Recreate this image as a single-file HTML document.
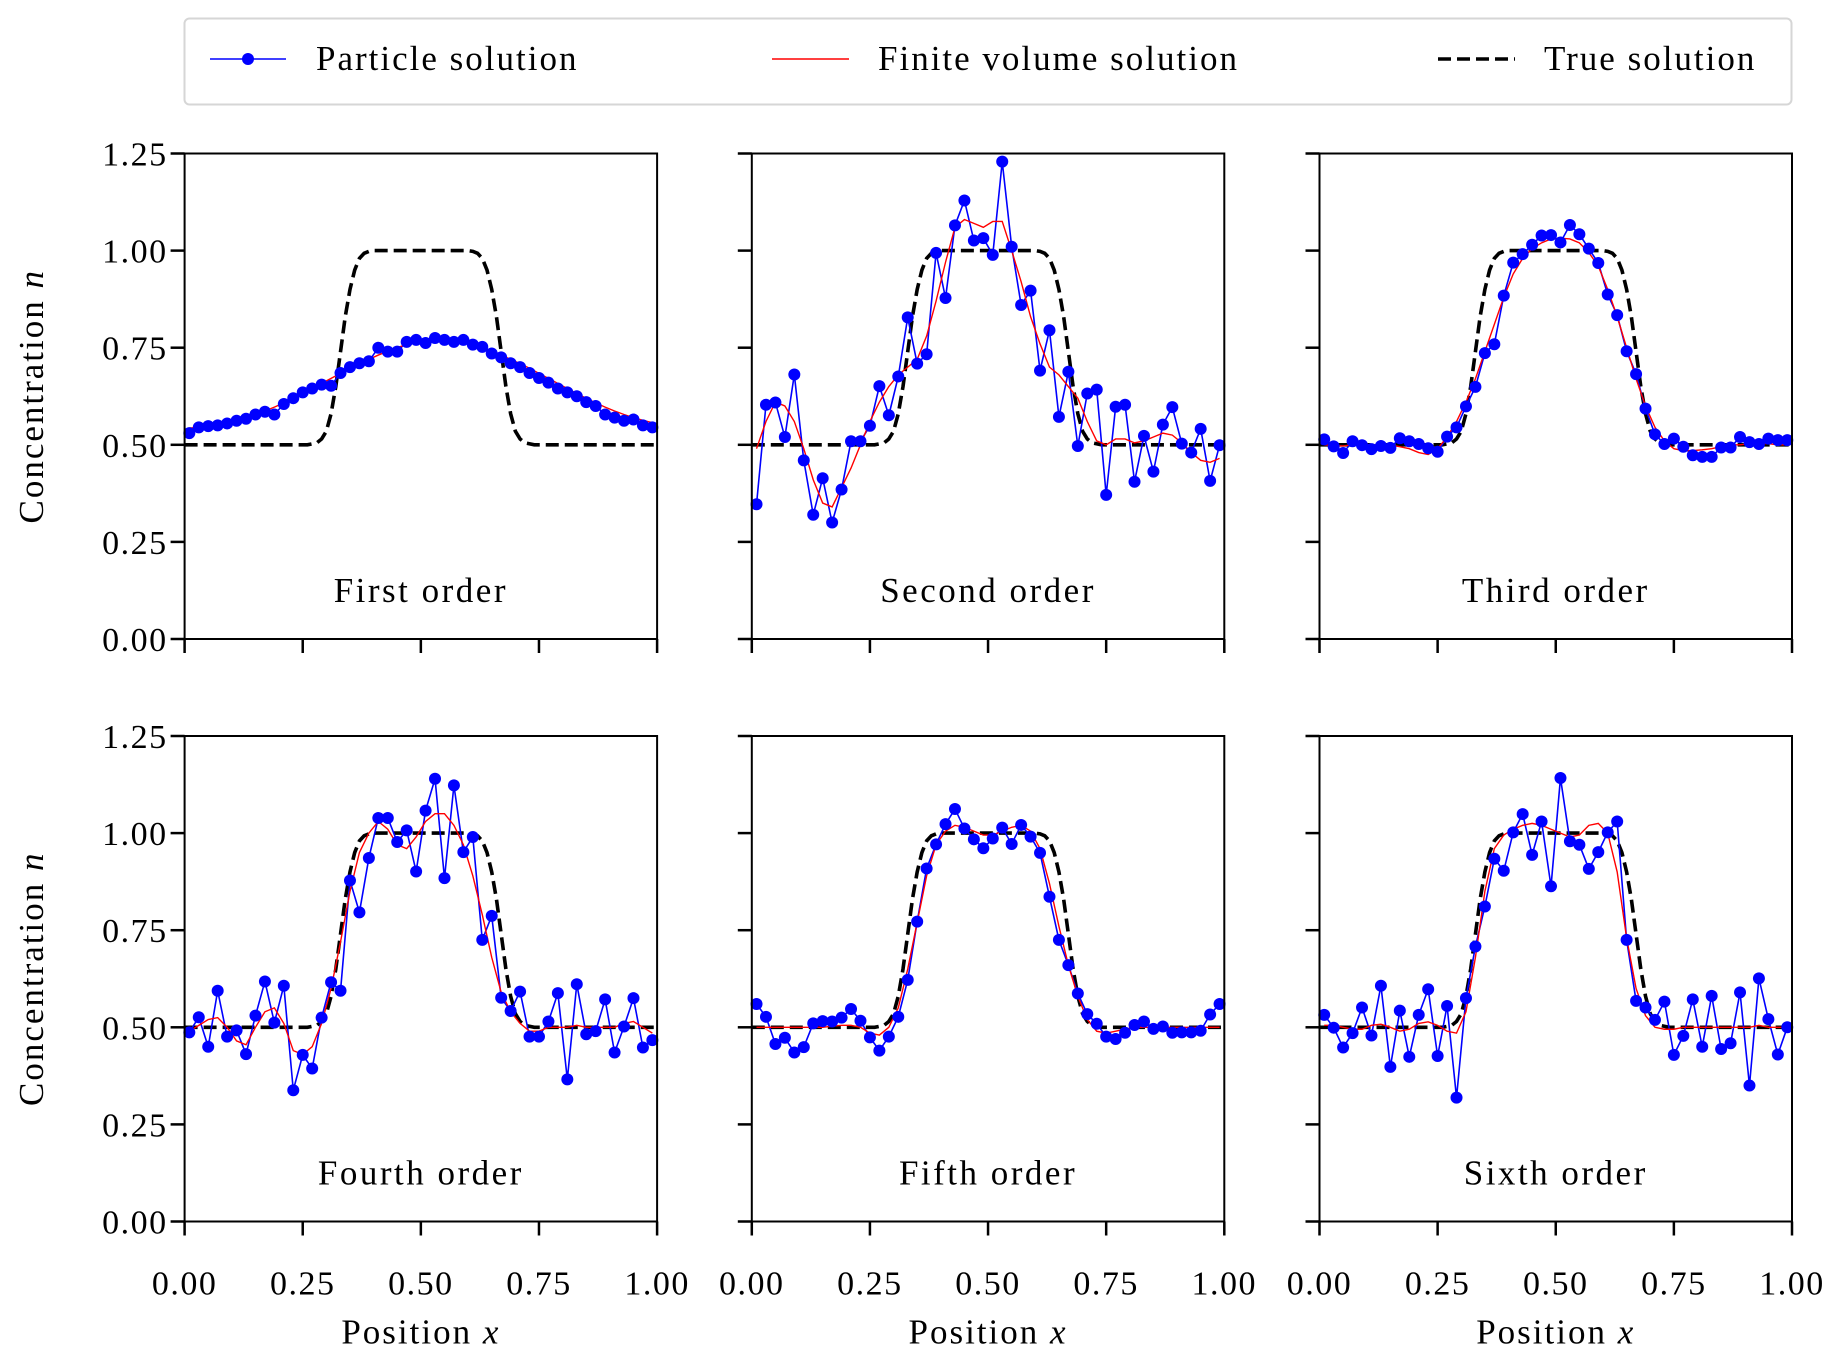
<!DOCTYPE html>
<html><head><meta charset="utf-8"><style>
html,body{margin:0;padding:0;background:#fff;}
svg{display:block;font-family:"Liberation Serif","DejaVu Serif",serif;}
</style></head>
<body>
<svg id="fig" width="1844" height="1362" viewBox="0 0 1844 1362" xmlns="http://www.w3.org/2000/svg">
<rect x="0" y="0" width="1844" height="1362" fill="#fff"/>
<g>
<rect x="184.5" y="18.5" width="1607" height="86" rx="5" fill="#fff" stroke="#d6d6d6" stroke-width="2"/>
<g>
<line x1="210" y1="59" x2="286" y2="59" stroke="#0000ff" stroke-width="1.6"/>
<circle cx="248" cy="59" r="6" fill="#0000ff"/>
<text x="316" y="70" font-size="35" letter-spacing="2">Particle solution</text></g>
<g>
<line x1="772" y1="59" x2="849" y2="59" stroke="#ff0000" stroke-width="1.4"/>
<text x="878" y="70" font-size="35" letter-spacing="2">Finite volume solution</text></g>
<g>
<line x1="1438" y1="59" x2="1515" y2="59" stroke="#000" stroke-width="3.5" stroke-dasharray="13,6"/>
<text x="1544" y="70" font-size="35" letter-spacing="2">True solution</text></g>
</g>
</svg>
<script>
const xTicks = [0, 0.25, 0.5, 0.75, 1.0];
const xTickLabels = ["0.00","0.25","0.50","0.75","1.00"];
const yTicks = [0, 0.25, 0.5, 0.75, 1.0, 1.25];
const yTickLabels = ["0.00","0.25","0.50","0.75","1.00","1.25"];
const panelTitles = ["First order","Second order","Third order","Fourth order","Fifth order","Sixth order"];
const trueX = [0,0.26,0.28,0.29,0.30,0.31,0.32,0.33,0.34,0.35,0.36,0.37,0.38,0.39,0.40,0.60,0.61,0.62,0.63,0.64,0.65,0.66,0.67,0.68,0.69,0.70,0.71,0.72,0.74,1.0];
const trueY = [0.5,0.5,0.505,0.515,0.535,0.58,0.65,0.74,0.83,0.9,0.95,0.98,0.993,0.998,1.0,1.0,0.998,0.993,0.98,0.95,0.9,0.83,0.74,0.65,0.58,0.535,0.515,0.505,0.5,0.5];
const p1 = [0.53,0.545,0.548,0.55,0.555,0.562,0.567,0.578,0.585,0.578,0.605,0.62,0.635,0.645,0.655,0.652,0.685,0.70,0.71,0.715,0.75,0.74,0.74,0.765,0.77,0.762,0.775,0.77,0.765,0.77,0.758,0.752,0.735,0.725,0.71,0.70,0.685,0.672,0.66,0.645,0.635,0.625,0.61,0.60,0.578,0.57,0.562,0.565,0.55,0.545];
const f1 = [0.543,0.545,0.548,0.552,0.557,0.563,0.570,0.578,0.587,0.597,0.608,0.620,0.632,0.645,0.658,0.671,0.684,0.697,0.709,0.72,0.731,0.741,0.750,0.758,0.764,0.768,0.770,0.770,0.768,0.764,0.758,0.750,0.741,0.731,0.72,0.709,0.697,0.684,0.671,0.658,0.645,0.632,0.620,0.608,0.597,0.587,0.578,0.570,0.563,0.557];
const p2 = [0.347,0.603,0.609,0.52,0.681,0.46,0.32,0.414,0.30,0.385,0.509,0.509,0.549,0.651,0.576,0.676,0.828,0.709,0.733,0.994,0.878,1.065,1.129,1.026,1.032,0.989,1.229,1.01,0.86,0.897,0.691,0.795,0.572,0.688,0.497,0.632,0.642,0.371,0.598,0.603,0.405,0.523,0.431,0.552,0.597,0.503,0.48,0.541,0.407,0.499];
const f2 = [0.49,0.56,0.61,0.60,0.56,0.49,0.41,0.35,0.34,0.39,0.44,0.50,0.56,0.61,0.65,0.68,0.70,0.72,0.78,0.87,0.97,1.06,1.08,1.07,1.06,1.075,1.075,1.0,0.92,0.83,0.76,0.70,0.68,0.65,0.62,0.56,0.51,0.50,0.515,0.515,0.505,0.51,0.52,0.53,0.525,0.505,0.48,0.46,0.455,0.465];
const p3 = [0.514,0.496,0.479,0.509,0.499,0.489,0.497,0.492,0.517,0.509,0.502,0.491,0.482,0.521,0.545,0.599,0.649,0.736,0.759,0.884,0.969,0.991,1.015,1.039,1.04,1.021,1.066,1.042,1.005,0.968,0.887,0.834,0.741,0.682,0.593,0.527,0.502,0.516,0.495,0.473,0.469,0.469,0.493,0.493,0.52,0.507,0.502,0.516,0.512,0.512];
const f3 = [0.5,0.498,0.497,0.5,0.5,0.5,0.5,0.5,0.495,0.49,0.48,0.475,0.49,0.52,0.56,0.61,0.67,0.74,0.81,0.88,0.94,0.98,1.005,1.02,1.03,1.032,1.03,1.02,0.995,0.96,0.90,0.83,0.75,0.67,0.60,0.545,0.51,0.49,0.485,0.485,0.487,0.49,0.495,0.5,0.5,0.503,0.503,0.503,0.5,0.5];
const p4 = [0.487,0.526,0.45,0.594,0.476,0.492,0.431,0.53,0.618,0.512,0.607,0.338,0.429,0.394,0.525,0.616,0.594,0.878,0.796,0.936,1.039,1.039,0.977,1.007,0.901,1.058,1.14,0.884,1.123,0.951,0.99,0.725,0.787,0.576,0.542,0.592,0.476,0.476,0.515,0.588,0.366,0.611,0.482,0.49,0.572,0.435,0.502,0.575,0.448,0.467];
const f4 = [0.49,0.505,0.52,0.525,0.50,0.465,0.455,0.50,0.54,0.55,0.51,0.44,0.43,0.45,0.51,0.60,0.72,0.85,0.95,1.0,1.03,1.01,0.97,0.96,0.99,1.03,1.05,1.05,1.02,0.97,0.89,0.79,0.68,0.59,0.54,0.51,0.49,0.49,0.50,0.50,0.50,0.505,0.50,0.50,0.50,0.50,0.51,0.515,0.50,0.485];
const p5 = [0.56,0.527,0.457,0.473,0.435,0.449,0.51,0.516,0.515,0.525,0.547,0.517,0.474,0.44,0.476,0.527,0.622,0.772,0.909,0.971,1.023,1.062,1.012,0.984,0.961,0.986,1.014,0.972,1.021,0.991,0.949,0.836,0.725,0.66,0.587,0.534,0.509,0.476,0.47,0.486,0.506,0.515,0.496,0.502,0.486,0.487,0.487,0.491,0.533,0.56];
const f5 = [0.5,0.5,0.5,0.5,0.5,0.5,0.5,0.5,0.503,0.505,0.505,0.5,0.485,0.48,0.5,0.55,0.65,0.77,0.89,0.97,1.005,1.02,1.015,1.005,0.995,0.995,1.005,1.015,1.02,1.005,0.96,0.87,0.76,0.66,0.58,0.52,0.49,0.485,0.49,0.495,0.5,0.5,0.5,0.5,0.5,0.5,0.5,0.5,0.5,0.5];
const p6 = [0.532,0.499,0.448,0.485,0.551,0.479,0.607,0.398,0.543,0.424,0.532,0.598,0.426,0.555,0.319,0.575,0.708,0.811,0.934,0.903,1.002,1.049,0.944,1.03,0.863,1.142,0.979,0.97,0.908,0.951,1.002,1.03,0.725,0.568,0.551,0.519,0.566,0.429,0.478,0.572,0.45,0.581,0.444,0.459,0.59,0.35,0.626,0.521,0.43,0.5];
const f6 = [0.505,0.505,0.5,0.495,0.495,0.505,0.508,0.5,0.49,0.495,0.51,0.514,0.505,0.49,0.485,0.54,0.68,0.85,0.96,0.995,1.01,1.02,1.025,1.02,1.01,1.0,0.99,0.995,1.02,1.025,1.0,0.90,0.73,0.60,0.53,0.50,0.495,0.495,0.5,0.5,0.5,0.5,0.5,0.5,0.5,0.5,0.505,0.5,0.5,0.5];
const particleSeries = [p1,p2,p3,p4,p5,p6];
const fvSeries = [f1,f2,f3,f4,f5,f6];

const NS = "http://www.w3.org/2000/svg";
const svg = document.getElementById("fig");
const colLeft = [184.6, 751.8, 1319.5];
const rowTop = [153.5, 736];
const PW = 472.5, PH = 485.5;
function mk(tag, attrs, parent){ const e=document.createElementNS(NS,tag); for(const k in attrs) e.setAttribute(k,attrs[k]); (parent||svg).appendChild(e); return e; }

for (let p=0;p<6;p++){
  const r=Math.floor(p/3), c=p%3;
  const L=colLeft[c], T=rowTop[r];
  const sx = v => L + v*PW;
  const sy = v => T + PH - v/1.25*PH;
  const g = mk("g",{});
  
  
  const n = particleSeries[p].length;
  const xs = particleSeries[p].map((_,i)=>(i+0.5)/n);
  const cp = mk("clipPath",{id:"cp"+p},g);
  mk("rect",{x:L,y:T,width:PW,height:PH},cp);
  const data = mk("g",{"clip-path":"url(#cp"+p+")"},g);
  const tl = mk("polyline",{points:trueX.map((x,i)=>sx(x)+","+sy(trueY[i])).join(" "),fill:"none",stroke:"#000","stroke-width":3.6,"stroke-dasharray":"13,6"},data);
  
  
  const pl = mk("polyline",{points:particleSeries[p].map((v,i)=>sx(xs[i])+","+sy(v)).join(" "),fill:"none",stroke:"#0000ff","stroke-width":1.6},data);
  
  
  const fl = mk("polyline",{points:fvSeries[p].map((v,i)=>sx(xs[i])+","+sy(v)).join(" "),fill:"none",stroke:"#ff0000","stroke-width":1.4},data);
  
  
  particleSeries[p].forEach((v,i)=>{
    const ci = mk("circle",{cx:sx(xs[i]),cy:sy(v),r:6,fill:"#0000ff"},g);
    
    
  });
  const fr = mk("rect",{x:L,y:T,width:PW,height:PH,fill:"none",stroke:"#000","stroke-width":2},g);
  
  
  yTicks.forEach((v,i)=>{
    mk("line",{x1:L-14,y1:sy(v),x2:L,y2:sy(v),stroke:"#000","stroke-width":2.5},g);
    if(c===0){
      const t = mk("text",{x:L-17,y:sy(v)+12,"font-size":34,"letter-spacing":1.5,"text-anchor":"end"},g);
      t.textContent = yTickLabels[i];
      
      
    }
  });
  xTicks.forEach((v,i)=>{
    mk("line",{x1:sx(v),y1:T+PH,x2:sx(v),y2:T+PH+14,stroke:"#000","stroke-width":2.5},g);
    if(r===1){
      const t = mk("text",{x:sx(v),y:T+PH+73,"font-size":34,"letter-spacing":1.5,"text-anchor":"middle"},g);
      t.textContent = xTickLabels[i];
      
      
    }
  });
  const tt = mk("text",{x:L+PW/2,y:T+PH-37,"font-size":35,"letter-spacing":2.5,"text-anchor":"middle"},g);
  tt.textContent = panelTitles[p];
  
  
  if(r===1){
    const xl = mk("text",{x:L+PW/2,y:T+PH+122,"font-size":35,"letter-spacing":2,"text-anchor":"middle"},g);
    xl.innerHTML = 'Position <tspan font-style="italic">x</tspan>';
    
    
  }
  if(c===0){
    const cy = T+PH/2;
    const yl = mk("text",{x:0,y:0,"font-size":35,"letter-spacing":2,"text-anchor":"middle",transform:"translate(43,"+cy+") rotate(-90)"},g);
    yl.innerHTML = 'Concentration <tspan font-style="italic">n</tspan>';
    
    
  }
}
</script>
</body></html>
